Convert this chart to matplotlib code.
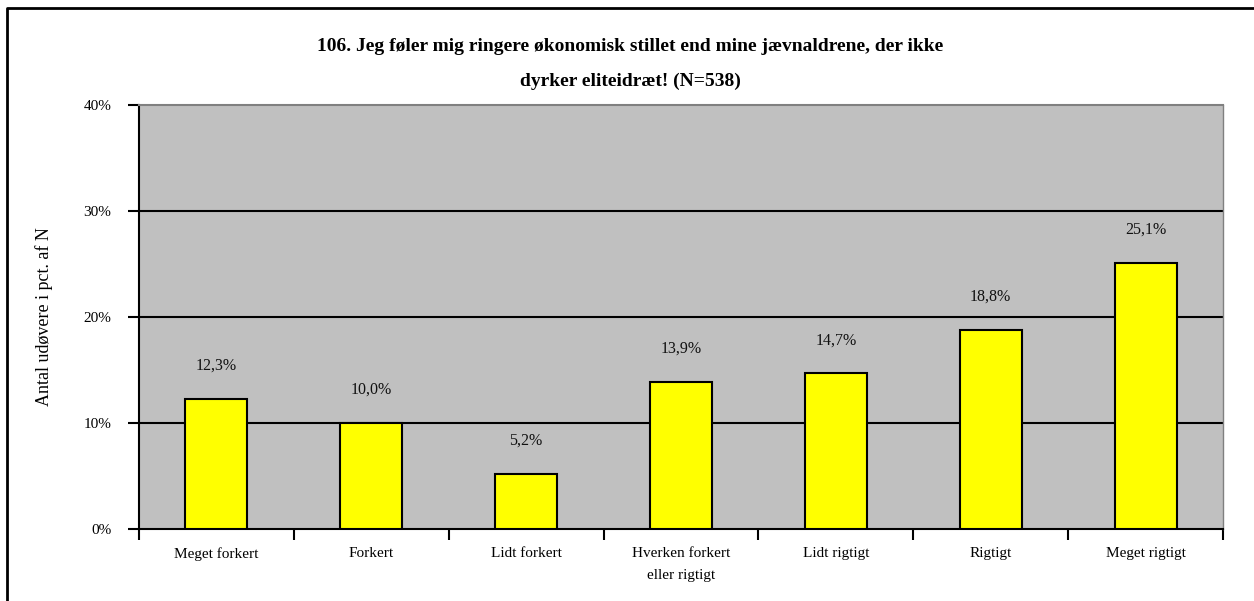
import matplotlib
matplotlib.use('Agg')
import matplotlib.pyplot as plt
from matplotlib.lines import Line2D

# data
categories = ['Meget forkert', 'Forkert', 'Lidt forkert', 'Hverken forkert\neller rigtigt',
              'Lidt rigtigt', 'Rigtigt', 'Meget rigtigt']
values = [12.3, 10.0, 5.2, 13.9, 14.7, 18.8, 25.1]
yticks = [0, 10, 20, 30, 40]
title = ('106. Jeg føler mig ringere økonomisk stillet end mine jævnaldrene, der ikke\n'
         'dyrker eliteidræt! (N=538)')

plt.rcParams['font.family'] = ['Liberation Serif', 'DejaVu Serif']

fig = plt.figure(figsize=(12.54, 6.01), dpi=100)
ax = fig.add_axes([139/1254, 1-529/601, (1223-139)/1254, (529-105)/601])
ax.set_facecolor('#C0C0C0')

x = list(range(len(categories)))
ax.bar(x, values, width=0.4, color='#FFFF00', edgecolor='black', linewidth=1.5, zorder=3)

for xi, v in zip(x, values):
    ax.text(xi, v + 3.1, f'{v:.1f}'.replace('.', ',') + '%', ha='center', va='center',
            fontsize=11.5, color='#111111', zorder=4)

# horizontal gridlines
for t in yticks[1:-1]:
    ax.axhline(t, color='black', lw=1.5, zorder=1)

ax.set_xlim(-0.5, len(categories) - 0.5)
ax.set_ylim(0, 40)
ax.set_yticks(yticks)
ax.set_yticklabels([f'{t}%' for t in yticks], fontsize=11)
ax.tick_params(axis='y', direction='out', length=8, width=1.5, pad=12)

ax.set_xticks(x)
ax.set_xticklabels(categories, fontsize=11, linespacing=1.9, va='top')
ax.tick_params(axis='x', which='major', length=0, pad=13)
ax.set_xticks([i + 0.5 for i in range(-1, len(categories))], minor=True)
ax.tick_params(axis='x', which='minor', direction='out', length=8, width=1.5)

ax.set_ylabel('Antal udøvere i pct. af N', fontsize=13, labelpad=22)

ax.spines['left'].set_linewidth(1.5)
ax.spines['bottom'].set_linewidth(1.5)
ax.spines['top'].set_color('#808080')
ax.spines['top'].set_linewidth(1.5)
ax.spines['right'].set_color('#808080')
ax.spines['right'].set_linewidth(1)

fig.text(630/1254, 1-64/601, title, ha='center', va='center', fontsize=14,
         fontweight='bold', linespacing=2.3)

# outer chart frame (only top and left visible in the crop)
fig.add_artist(Line2D([7/1254, 7/1254, 1.0], [0.0, 1-8/601, 1-8/601],
                      transform=fig.transFigure, color='black', lw=2))

fig.savefig('out.png', dpi=100)
